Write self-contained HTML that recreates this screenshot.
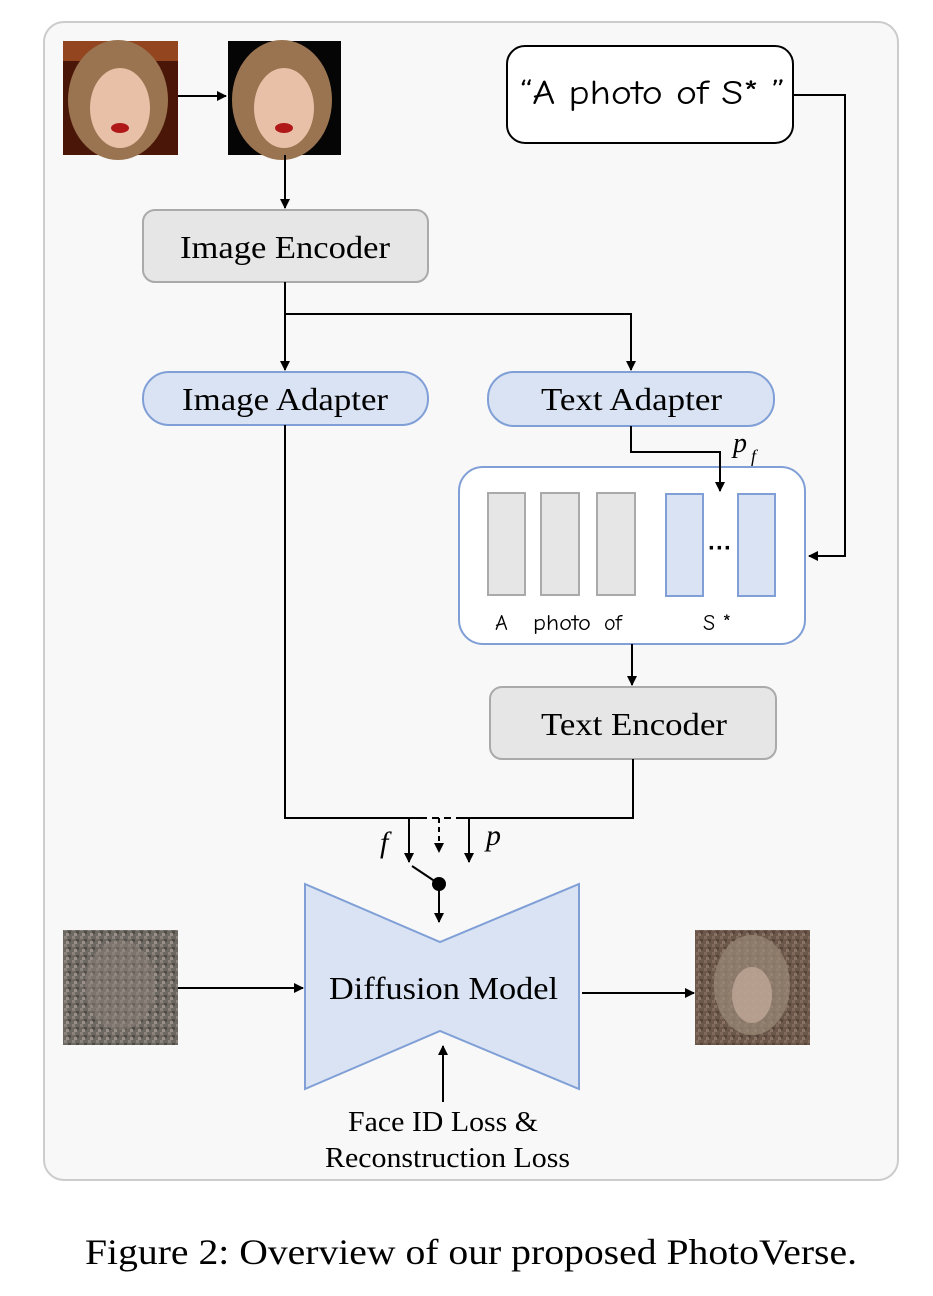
<!DOCTYPE html>
<html><head><meta charset="utf-8"><style>
html,body{margin:0;padding:0;background:#fff;}
svg{display:block;}
.s{font-family:"Liberation Serif",serif;fill:#000;}
.h{font-family:"Comic Neue","Comic Sans MS","DejaVu Sans",sans-serif;fill:#000;}
</style></head><body>
<svg width="933" height="1296" viewBox="0 0 933 1296" xmlns="http://www.w3.org/2000/svg">
<defs>
<marker id="a" markerWidth="10" markerHeight="10" refX="9" refY="5" orient="auto" markerUnits="userSpaceOnUse"><path d="M0,0 L10,5 L0,10 z" fill="#000"/></marker>
<pattern id="noise" width="8" height="8" patternUnits="userSpaceOnUse"><rect width="8" height="8" fill="#6e6862"/><rect x="0" y="0" width="3" height="3" fill="#8a847c"/><rect x="4" y="3" width="3" height="3" fill="#4e4a46"/><rect x="2" y="5" width="3" height="3" fill="#9a9088"/></pattern>
</defs>
<rect x="44" y="22" width="854" height="1158" rx="20" fill="#f8f8f8" stroke="#cccccc" stroke-width="2"/>
<!-- photo 1 -->
<rect x="63" y="41" width="115" height="114" fill="#4a1608"/>
<rect x="63" y="41" width="115" height="20" fill="#b05a2a" opacity="0.7"/>
<ellipse cx="118" cy="100" rx="50" ry="60" fill="#9a7450"/>
<ellipse cx="120" cy="108" rx="30" ry="40" fill="#e8c0a8"/>
<ellipse cx="120" cy="128" rx="9" ry="5" fill="#b01818"/>
<!-- photo 2 -->
<rect x="228" y="41" width="113" height="114" fill="#050505"/>
<ellipse cx="282" cy="100" rx="50" ry="60" fill="#9a7450"/>
<ellipse cx="284" cy="108" rx="30" ry="40" fill="#e8c0a8"/>
<ellipse cx="284" cy="128" rx="9" ry="5" fill="#b01818"/>
<line x1="178" y1="96" x2="226" y2="96" stroke="#000" stroke-width="2" marker-end="url(#a)"/>
<line x1="285" y1="155" x2="285" y2="208" stroke="#000" stroke-width="2" marker-end="url(#a)"/>
<!-- prompt -->
<rect x="507" y="46" width="286" height="97" rx="18" fill="#fff" stroke="#000" stroke-width="2"/>
<text x="520" y="104" class="h" font-size="34" textLength="265" lengthAdjust="spacingAndGlyphs">“A photo of S* ”</text>
<polyline points="793,95 845,95 845,556 809,556" fill="none" stroke="#000" stroke-width="2" marker-end="url(#a)"/>
<!-- image encoder -->
<rect x="143" y="210" width="285" height="72" rx="12" fill="#e6e6e6" stroke="#aaaaaa" stroke-width="2"/>
<text x="180" y="258" class="s" font-size="32" textLength="210" lengthAdjust="spacingAndGlyphs">Image Encoder</text>
<line x1="285" y1="282" x2="285" y2="370" stroke="#000" stroke-width="2" marker-end="url(#a)"/>
<polyline points="285,314 631,314 631,370" fill="none" stroke="#000" stroke-width="2" marker-end="url(#a)"/>
<!-- adapters -->
<rect x="143" y="372" width="285" height="53" rx="26" fill="#dae3f3" stroke="#7f9fd6" stroke-width="2"/>
<text x="182" y="410" class="s" font-size="32" textLength="206" lengthAdjust="spacingAndGlyphs">Image Adapter</text>
<rect x="488" y="372" width="286" height="54" rx="26" fill="#dae3f3" stroke="#7f9fd6" stroke-width="2"/>
<text x="541" y="410" class="s" font-size="32" textLength="181" lengthAdjust="spacingAndGlyphs">Text Adapter</text>
<text x="733" y="452" class="s" font-size="28" font-style="italic">p</text>
<text x="751" y="462" class="s" font-size="18" font-style="italic">f</text>
<!-- token box -->
<rect x="459" y="467" width="346" height="177" rx="24" fill="#fff" stroke="#7f9fd6" stroke-width="2"/>
<polyline points="631,426 631,452 720,452 720,491" fill="none" stroke="#000" stroke-width="2" marker-end="url(#a)"/>
<rect x="488" y="493" width="37" height="102" fill="#e6e6e6" stroke="#aaa" stroke-width="2"/>
<rect x="541" y="493" width="38" height="102" fill="#e6e6e6" stroke="#aaa" stroke-width="2"/>
<rect x="597" y="493" width="38" height="102" fill="#e6e6e6" stroke="#aaa" stroke-width="2"/>
<rect x="666" y="494" width="37" height="102" fill="#dae3f3" stroke="#7f9fd6" stroke-width="2"/>
<rect x="738" y="494" width="37" height="102" fill="#dae3f3" stroke="#7f9fd6" stroke-width="2"/>
<text x="720" y="556" font-family="Liberation Sans,sans-serif" font-size="24" font-weight="bold" text-anchor="middle">···</text>
<text x="495" y="630" class="h" font-size="22">A</text>
<text x="533" y="630" class="h" font-size="22" textLength="58" lengthAdjust="spacingAndGlyphs">photo</text>
<text x="604" y="630" class="h" font-size="22">of</text>
<text x="703" y="630" class="h" font-size="22">S *</text>
<line x1="632" y1="644" x2="632" y2="685" stroke="#000" stroke-width="2" marker-end="url(#a)"/>
<!-- text encoder -->
<rect x="490" y="687" width="286" height="72" rx="12" fill="#e6e6e6" stroke="#aaaaaa" stroke-width="2"/>
<text x="541" y="735" class="s" font-size="32" textLength="186" lengthAdjust="spacingAndGlyphs">Text Encoder</text>
<!-- merge lines -->
<polyline points="285,425 285,818 420,818" fill="none" stroke="#000" stroke-width="2"/>
<line x1="420" y1="818" x2="460" y2="818" stroke="#000" stroke-width="2" stroke-dasharray="7,5"/>
<polyline points="460,818 633,818 633,759" fill="none" stroke="#000" stroke-width="2"/>
<line x1="409" y1="818" x2="409" y2="862" stroke="#000" stroke-width="2" marker-end="url(#a)"/>
<line x1="439" y1="818" x2="439" y2="852" stroke="#000" stroke-width="2" stroke-dasharray="5,4" marker-end="url(#a)"/>
<line x1="469" y1="818" x2="469" y2="862" stroke="#000" stroke-width="2" marker-end="url(#a)"/>
<text x="380" y="852" class="s" font-size="30" font-style="italic">f</text>
<text x="486" y="845" class="s" font-size="30" font-style="italic">p</text>
<line x1="412" y1="866" x2="439" y2="884" stroke="#000" stroke-width="2"/>
<circle cx="439" cy="884" r="7" fill="#000"/>
<line x1="439" y1="888" x2="439" y2="922" stroke="#000" stroke-width="2" marker-end="url(#a)"/>
<!-- diffusion -->
<polygon points="305,884 440,942 579,884 579,1089 440,1031 305,1089" fill="#dae3f3" stroke="#7f9fd6" stroke-width="2"/>
<text x="329" y="999" class="s" font-size="32" textLength="229" lengthAdjust="spacingAndGlyphs">Diffusion Model</text>
<!-- noise images -->
<rect x="63" y="930" width="115" height="115" fill="url(#noise)"/>
<ellipse cx="120" cy="985" rx="35" ry="45" fill="#8a8078" opacity="0.5"/>
<rect x="695" y="930" width="115" height="115" fill="url(#noise)"/>
<rect x="695" y="930" width="115" height="115" fill="#6a3a22" opacity="0.35"/>
<ellipse cx="752" cy="985" rx="38" ry="50" fill="#9a8a78" opacity="0.7"/>
<ellipse cx="752" cy="995" rx="20" ry="28" fill="#c0a898" opacity="0.8"/>
<line x1="178" y1="988" x2="303" y2="988" stroke="#000" stroke-width="2" marker-end="url(#a)"/>
<line x1="582" y1="993" x2="694" y2="993" stroke="#000" stroke-width="2" marker-end="url(#a)"/>
<line x1="443" y1="1102" x2="443" y2="1046" stroke="#000" stroke-width="2" marker-end="url(#a)"/>
<text x="348" y="1131" class="s" font-size="28" textLength="190" lengthAdjust="spacingAndGlyphs">Face ID Loss &amp;</text>
<text x="325" y="1167" class="s" font-size="28" textLength="245" lengthAdjust="spacingAndGlyphs">Reconstruction Loss</text>
<text x="85" y="1264" class="s" font-size="36" textLength="772" lengthAdjust="spacingAndGlyphs">Figure 2: Overview of our proposed PhotoVerse.</text>
</svg>
</body></html>
